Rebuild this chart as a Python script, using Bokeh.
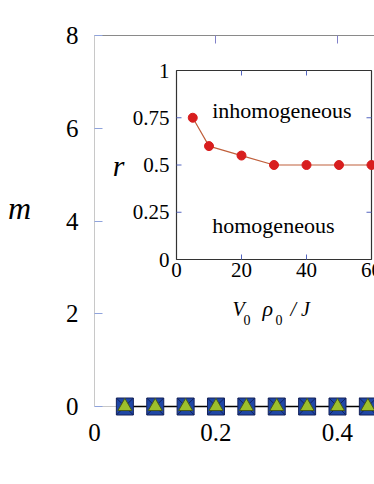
from bokeh.plotting import figure
from bokeh.models import (Range1d, LinearAxis, FixedTicker, ColumnDataSource,
                          CustomJSTickFormatter, Span)
from bokeh.core.properties import value
from bokeh.embed import file_html
from bokeh.resources import INLINE

# ---- main panel data ----
main_x = [0.05, 0.10, 0.15, 0.20, 0.25, 0.30, 0.35, 0.40, 0.45]
main_m = [0, 0, 0, 0, 0, 0, 0, 0, 0]
main_xticks = [0, 0.2, 0.4]
main_yticks = [0, 2, 4, 6, 8]

# ---- inset data ----
inset_v = [5, 10, 20, 30, 40, 50, 60]
inset_r = [0.75, 0.60, 0.55, 0.50, 0.50, 0.50, 0.50]
inset_xticks = [0, 20, 40, 60]
inset_xtick_labels = ["0", "20", "40", "60"]
inset_yticks = [0, 0.25, 0.5, 0.75, 1]
inset_ytick_labels = ["0", "0.25", "0.5", "0.75", "1"]

SERIF = "Liberation Serif, Times New Roman, serif"

p = figure(width=374, height=480,
           x_range=Range1d(0, 0.46091), y_range=Range1d(-0.2156, 8),
           x_axis_type=None, y_axis_type=None,
           output_backend="svg", toolbar_location=None,
           min_border_left=94, min_border_right=0,
           min_border_top=35, min_border_bottom=64)
p.outline_line_color = None
p.background_fill_color = "white"

tick_blue = "#8fa3dc"

left = LinearAxis(ticker=FixedTicker(ticks=main_yticks), bounds=(0, 8),
                  axis_line_color="#c8c8c8", major_tick_in=8, major_tick_out=0,
                  major_tick_line_color=tick_blue, minor_tick_line_color=None,
                  major_label_text_font=SERIF, major_label_text_font_size="25px",
                  major_label_text_color="black", major_label_standoff=16,
                  axis_label="m\n", axis_label_orientation="horizontal",
                  axis_label_text_font=SERIF, axis_label_text_font_style="italic",
                  axis_label_text_font_size="32px", axis_label_text_color="black",
                  axis_label_text_line_height=1.0, axis_label_standoff=32)
p.add_layout(left, "left")

bottom = LinearAxis(ticker=FixedTicker(ticks=main_xticks),
                    axis_line_color=None, major_tick_line_color=None,
                    minor_tick_line_color=None,
                    major_label_text_font=SERIF, major_label_text_font_size="25px",
                    major_label_text_color="black", major_label_standoff=1)
p.add_layout(bottom, "below")

top = LinearAxis(ticker=FixedTicker(ticks=[0.2, 0.4]),
                 axis_line_color="#8a8a8a", major_tick_in=8, major_tick_out=0,
                 major_tick_line_color="#8080c8", minor_tick_line_color=None,
                 formatter=CustomJSTickFormatter(code="return ''"),
                 major_label_text_font_size="1px", major_label_standoff=0)
p.add_layout(top, "above")

# baseline m = 0 (bottom frame line)
p.add_layout(Span(location=0, dimension="width", line_color="#c8c8c8",
                  line_width=1, level="underlay"))

# main series
p.line(main_x, main_m, line_color="black", line_width=1.6)
p.scatter(main_x, main_m, marker="square_x", size=17,
          fill_color="#1f47a6", line_color="#14225a", line_width=1)
p.scatter(main_x, main_m, marker="triangle", size=14,
          fill_color="#9cbf2c", line_color="#4a5a14", line_width=1)

# ---- inset via extra ranges ----
# inset: v=0 at page x 176, 3.25 px/unit; r=0 at page y 259, 189 px/unit
p.extra_x_ranges = {"ix": Range1d(-25.2308, 60.923)}
p.extra_y_ranges = {"iy": Range1d(-0.83069, 1.18519)}
IR = dict(x_range_name="ix", y_range_name="iy")

x0, x1 = inset_xticks[0], inset_xticks[-1]
y0, y1 = inset_yticks[0], inset_yticks[-1]
p.quad(left=[x0], right=[x1], bottom=[y0], top=[y1], fill_color="white",
       line_color="#333333", line_width=1.2, **IR)

tx = 5 / 3.25   # 5px tick length in inset x units
ty = 5 / 189.0  # 5px tick length in inset y units
inner_y = inset_yticks[1:-1]
inner_x = inset_xticks[1:-1]
ink = "#5566c0"
p.segment(x0=[x0] * len(inner_y), y0=inner_y, x1=[x0 + tx] * len(inner_y), y1=inner_y,
          line_color=ink, line_width=1, **IR)
p.segment(x0=[x1] * len(inner_y), y0=inner_y, x1=[x1 - tx] * len(inner_y), y1=inner_y,
          line_color=ink, line_width=1, **IR)
p.segment(x0=inner_x, y0=[y0] * len(inner_x), x1=inner_x, y1=[y0 + ty] * len(inner_x),
          line_color=ink, line_width=1, **IR)
p.segment(x0=inner_x, y0=[y1] * len(inner_x), x1=inner_x, y1=[y1 - ty] * len(inner_x),
          line_color=ink, line_width=1, **IR)

p.line(inset_v, inset_r, line_color="#c0603c", line_width=1.2, **IR)
p.scatter(inset_v, inset_r, size=9, fill_color="#d81e1e", line_color="#d81e1e", **IR)

ysrc = ColumnDataSource(dict(x=[x0] * len(inset_yticks), y=inset_yticks, t=inset_ytick_labels))
p.text(x="x", y="y", text="t", source=ysrc, x_offset=-7,
       text_align="right", text_baseline="middle",
       text_font=value(SERIF), text_font_size="21px", text_color="black", **IR)
xsrc = ColumnDataSource(dict(x=inset_xticks, y=[y0] * len(inset_xticks), t=inset_xtick_labels))
p.text(x="x", y="y", text="t", source=xsrc, y_offset=3,
       text_align="center", text_baseline="top",
       text_font=value(SERIF), text_font_size="21px", text_color="black", **IR)

# inset axis titles
p.text(x=[x0], y=[0.5], text=["r"], x_offset=-58, text_align="center", text_baseline="middle",
       text_font=value(SERIF), text_font_style="italic", text_font_size="30px",
       text_color="black", **IR)
pieces = [("V", 56, 49, "20px", "italic"), ("0", 67, 60, "14px", "normal"),
          ("\u03c1", 86, 49, "22px", "italic"), ("0", 99, 60, "14px", "normal"),
          ("/ J", 114, 49, "20px", "italic")]
for t, dx, dy, fs, st in pieces:
    p.text(x=[x0], y=[y0], text=[t], x_offset=dx, y_offset=dy,
           text_align="left", text_baseline="alphabetic",
           text_font=value(SERIF), text_font_style=st, text_font_size=fs,
           text_color="black", **IR)

p.text(x=[11], y=[0.788], text=["inhomogeneous"], text_align="left", text_baseline="alphabetic",
       text_font=value(SERIF), text_font_size="22px", text_color="black", **IR)
p.text(x=[11], y=[0.18], text=["homogeneous"], text_align="left", text_baseline="alphabetic",
       text_font=value(SERIF), text_font_size="22px", text_color="black", **IR)

open("out.html", "w").write(file_html(p, INLINE))
